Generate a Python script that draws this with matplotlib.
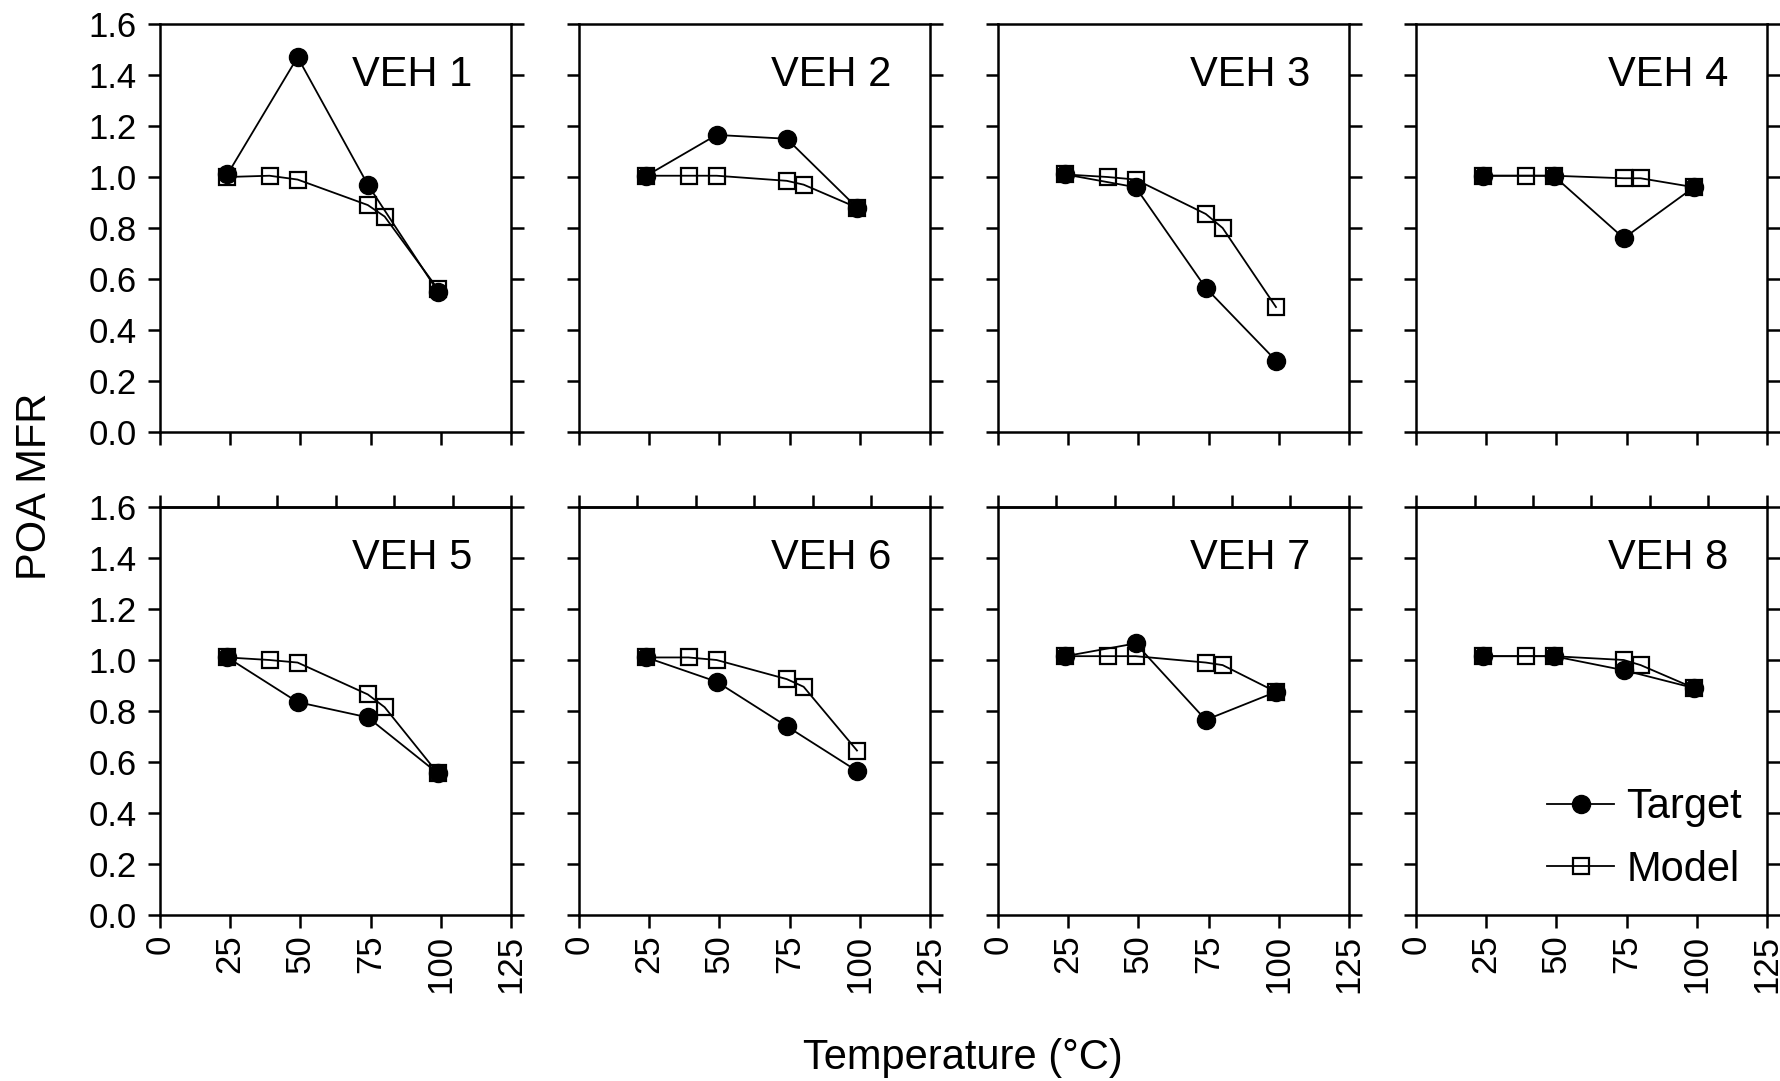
import matplotlib
matplotlib.use("Agg")
import matplotlib.pyplot as plt
import numpy as np

plt.rcParams['font.family'] = ['Liberation Sans', 'DejaVu Sans']

# Temperatures (deg C) at which target and model were evaluated
target_temp = [24, 49, 74, 99]
model_temp = [24, 39, 49, 74, 80, 99]

vehicles = ["VEH 1", "VEH 2", "VEH 3", "VEH 4",
            "VEH 5", "VEH 6", "VEH 7", "VEH 8"]

# POA MFR
veh1_target = [1.01, 1.47, 0.97, 0.55]
veh1_model = [1.00, 1.005, 0.99, 0.89, 0.845, 0.56]
veh2_target = [1.005, 1.165, 1.15, 0.88]
veh2_model = [1.005, 1.005, 1.005, 0.985, 0.97, 0.88]
veh3_target = [1.01, 0.96, 0.565, 0.28]
veh3_model = [1.01, 1.00, 0.99, 0.855, 0.80, 0.49]
veh4_target = [1.005, 1.005, 0.76, 0.96]
veh4_model = [1.005, 1.005, 1.005, 0.995, 0.995, 0.96]
veh5_target = [1.01, 0.835, 0.775, 0.555]
veh5_model = [1.01, 1.00, 0.99, 0.865, 0.815, 0.555]
veh6_target = [1.01, 0.915, 0.74, 0.565]
veh6_model = [1.01, 1.01, 1.00, 0.925, 0.895, 0.645]
veh7_target = [1.015, 1.065, 0.765, 0.875]
veh7_model = [1.015, 1.015, 1.015, 0.99, 0.98, 0.875]
veh8_target = [1.015, 1.015, 0.96, 0.89]
veh8_model = [1.015, 1.015, 1.015, 1.00, 0.98, 0.89]

targets = [veh1_target, veh2_target, veh3_target, veh4_target,
           veh5_target, veh6_target, veh7_target, veh8_target]
models = [veh1_model, veh2_model, veh3_model, veh4_model,
          veh5_model, veh6_model, veh7_model, veh8_model]

W, H = 1781, 1081
fig = plt.figure(figsize=(W / 100, H / 100), dpi=100)

col_left = [160, 579, 998, 1416]
col_w = 351
row_top = [24, 507]
row_h = 408

lw_axis = 1.8
for i in range(8):
    r, c = divmod(i, 4)
    ax = fig.add_axes([col_left[c] / W, 1 - (row_top[r] + row_h) / H,
                       col_w / W, row_h / H])

    ax.plot(model_temp, models[i], color='black', lw=1.3, marker='s',
            ms=12, mfc='none', mec='black', mew=1.6, label='Model', zorder=3)
    ax.plot(target_temp, targets[i], color='black', lw=1.3, marker='o',
            ms=13, mfc='black', mec='black', label='Target', zorder=4)

    ax.set_xlim(0, 125)
    ax.set_ylim(0, 1.6)
    ax.set_xticks([0, 25, 50, 75, 100, 125])
    ax.set_yticks(np.arange(0, 1.61, 0.2))
    for s in ax.spines.values():
        s.set_linewidth(lw_axis)

    ax.tick_params(axis='y', which='both', direction='out', length=9,
                   width=lw_axis, left=True, right=True, labelsize=25, pad=8,
                   labelleft=(c == 0))
    ax.tick_params(axis='x', direction='out', length=9, width=lw_axis,
                   labelsize=25, pad=5, labelbottom=(r == 1),
                   labelrotation=90)
    if c == 0:
        ax.set_yticklabels([f"{v:.1f}" for v in np.arange(0, 1.61, 0.2)])

    if r == 1:
        top = ax.secondary_xaxis('top')
        top.set_xticks(np.linspace(0, 125, 7))
        top.tick_params(direction='out', length=9, width=lw_axis,
                        labeltop=False)
        top.spines['top'].set_linewidth(lw_axis)

    ax.text(0.889, 0.848, vehicles[i], transform=ax.transAxes,
            ha='right', va='baseline', fontsize=30)

    if i == 7:
        h, l = ax.get_legend_handles_labels()
        ax.legend(h[::-1], l[::-1], loc='lower right', frameon=False,
                  fontsize=30, handlelength=1.6, handletextpad=0.3,
                  labelspacing=0.55, borderaxespad=0.3, borderpad=0.3)

fig.text(963 / W, 1 - 1058 / H, "Temperature (°C)", ha='center',
         va='center', fontsize=30)
fig.text(35 / W, 1 - 486 / H, "POA MFR", ha='center', va='center',
         rotation=90, fontsize=30)

fig.savefig("out.png", dpi=100)
